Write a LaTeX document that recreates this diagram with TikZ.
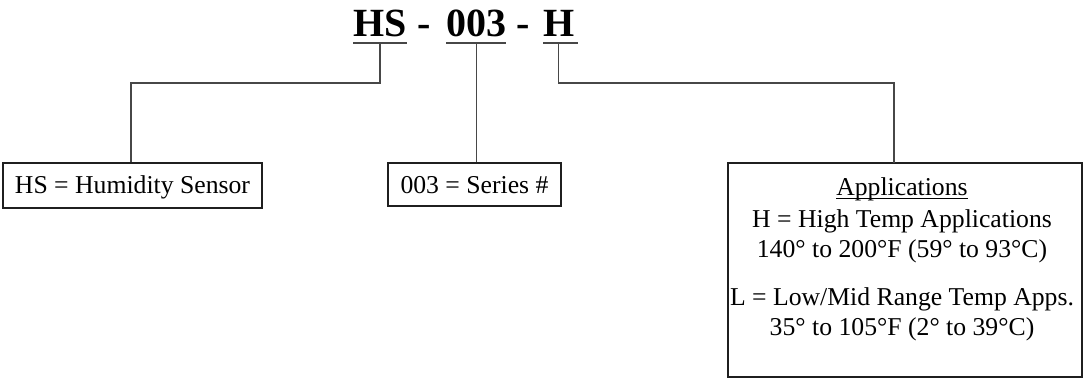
\documentclass[tikz,border=0pt]{standalone}
\usepackage{fontspec}
\setmainfont{Liberation Serif}
\begin{document}
\begin{tikzpicture}[x=1pt,y=-1pt,
  conn/.style={draw=black!72,line width=1.3pt},
  uline/.style={draw=black!72,line width=1.5pt},
  boxed/.style={draw=black!88,line width=1.2pt,inner sep=0pt},
  title/.style={inner sep=0pt,anchor=base west,font=\fontsize{40}{44}\selectfont\bfseries},
  txt/.style={inner sep=0pt,anchor=base,font=\fontsize{25.7}{30}\selectfont}]
\path[use as bounding box] (0,0) rectangle (1084,381);
% title parts
\node[title] (hs) at (353,36) {HS};
\node[title,anchor=base] (d1) at (424.5,36) {-};
\node[title] (num) at (446,36) {003};
\node[title,anchor=base] (d2) at (523.5,36) {-};
\node[title] (h) at (543,36) {H};
\draw[uline] ([yshift=-7pt]hs.base west) -- ([yshift=-7pt]hs.base east);
\draw[uline] ([yshift=-7pt]num.base west) -- ([yshift=-7pt]num.base east);
\draw[uline] ([yshift=-7pt]h.base west) -- ([xshift=3pt,yshift=-7pt]h.base east);
% boxes
\node[boxed,minimum width=259pt,minimum height=45pt] (b1) at (132.5,185.5) {};
\node[txt] (t1) at (132.5,193) {HS = Humidity Sensor};
\node[boxed,minimum width=173pt,minimum height=43pt] (b2) at (474.5,184.5) {};
\node[txt] (t2) at (474.5,193) {003 = Series \#};
\node[boxed,minimum width=354pt,minimum height=214pt] (b3) at (905,270) {};
\node[txt] (l1) at (902,195) {Applications};
\node[txt] (l2) at (902,227) {H = High Temp Applications};
\node[txt] (l3) at (902,257) {140° to 200°F (59° to 93°C)};
\node[txt] (l4) at (902,305) {L = Low/Mid Range Temp Apps.};
\node[txt] (l5) at (902,335) {35° to 105°F (2° to 39°C)};
\draw[line width=1pt] ([yshift=-3pt]l1.base west) -- ([yshift=-3pt]l1.base east);
% connectors
\coordinate (c3) at (894,163);
\draw[conn] ([yshift=-7pt]hs.base) -- ++(0,40) -| ([xshift=-1.5pt]b1.north);
\draw[conn] ([yshift=-7pt]num.base) -- (num.base |- b2.north);
\draw[conn] ([yshift=-7pt]h.base) -- ++(0,40) -| (c3);
\end{tikzpicture}
\end{document}
